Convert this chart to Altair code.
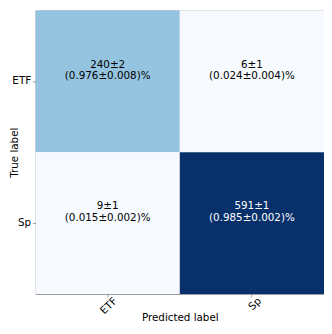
import altair as alt
import pandas as pd

true_labels = ["ETF", "ETF", "Sp", "Sp"]
pred_labels = ["ETF", "Sp", "ETF", "Sp"]
counts = [240, 6, 9, 591]
count_err = [2, 1, 1, 1]
fractions = ["0.976", "0.024", "0.015", "0.985"]
frac_err = ["0.008", "0.004", "0.002", "0.002"]

# matplotlib "Blues" colormap stops
blues = ["#f7fbff", "#deebf7", "#c6dbef", "#9ecae1", "#6baed6",
         "#4292c6", "#2171b5", "#08519c", "#08306b"]

texts = [f"{c}±{e}\n({f}±{fe})%" for c, e, f, fe in zip(counts, count_err, fractions, frac_err)]
df = pd.DataFrame({
    "true": true_labels,
    "pred": pred_labels,
    "count": counts,
    "label": texts,
    "dark": [c > 300 for c in counts],
})

order = ["ETF", "Sp"]
font = "DejaVu Sans"
cmin, cmax = min(counts), max(counts)
stops = [cmin + (cmax - cmin) * i / (len(blues) - 1) for i in range(len(blues))]

base = alt.Chart(df).encode(
    x=alt.X("pred:N", sort=order, title="Predicted label",
            scale=alt.Scale(paddingInner=0, paddingOuter=0),
            axis=alt.Axis(labelAngle=-45, labelAlign="right", labelBaseline="middle",
                          labelFont=font, labelFontSize=10.5, labelColor="#000",
                          titleFont=font, titleFontSize=10.5, titleFontWeight="normal",
                          titleColor="#000", titleY=24, titleBaseline="middle",
                          tickColor="#999", tickSize=3, domain=False, labelPadding=2,
                          labelOffset=8)),
    y=alt.Y("true:N", sort=order, title="True label",
            scale=alt.Scale(paddingInner=0, paddingOuter=0),
            axis=alt.Axis(labelAngle=0, labelFont=font, labelFontSize=10.5, labelColor="#000",
                          titleFont=font, titleFontSize=10.5, titleFontWeight="normal",
                          titleColor="#000", titleX=-21, titleBaseline="middle",
                          tickColor="#999", tickSize=3, domain=False, labelPadding=2)),
)

rects = base.mark_rect().encode(
    color=alt.Color("count:Q", scale=alt.Scale(domain=stops, range=blues), legend=None)
)

txt = base.mark_text(font=font, fontSize=10.5, lineBreak="\n", lineHeight=11.5,
                     baseline="middle", dy=-17).encode(
    text="label:N",
    color=alt.condition("datum.dark", alt.value("white"), alt.value("black")),
)

chart = (rects + txt).properties(
    width=293, height=288,
    padding={"left": 28, "top": 0, "right": 0, "bottom": 30},
    autosize=alt.AutoSizeParams(type="none"),
).configure_view(stroke="#999", strokeWidth=1)

chart.save("out.html", embed_options={"renderer": "svg", "actions": False})
